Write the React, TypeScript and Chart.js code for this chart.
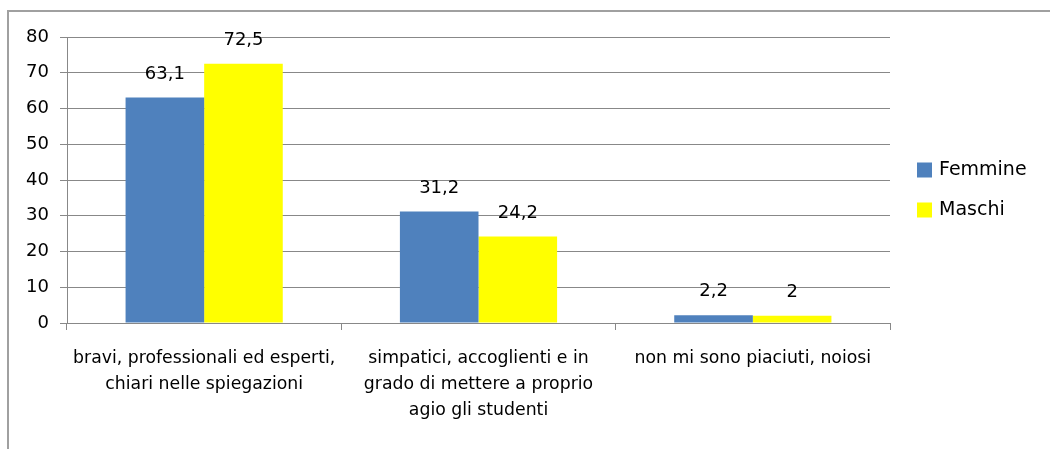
import React, { useEffect, useRef } from "react";
import { Chart, registerables } from "chart.js";

Chart.register(...registerables);

const categories: string[][] = [
  ["bravi, professionali ed esperti,", "chiari nelle spiegazioni"],
  ["simpatici, accoglienti e in", "grado di mettere a proprio", "agio gli studenti"],
  ["non mi sono piaciuti, noiosi"],
];
const femmine: number[] = [63.1, 31.2, 2.2];
const maschi: number[] = [72.5, 24.2, 2];
const seriesNames: string[] = ["Femmine", "Maschi"];
const seriesColors: string[] = ["#4F81BD", "#FFFF00"];
const yTicks = { min: 0, max: 80, step: 10 };

const FONT = "'DejaVu Sans', sans-serif";
const GRID = "#888888";

const fmt = (v: number) => String(v).replace(".", ",");

const framePlugin = {
  id: "frame",
  beforeDraw(chart: any) {
    const ctx = chart.ctx;
    ctx.save();
    ctx.strokeStyle = "#a0a0a0";
    ctx.lineWidth = 2;
    ctx.beginPath();
    ctx.moveTo(8, chart.height);
    ctx.lineTo(8, 11);
    ctx.lineTo(chart.width, 11);
    ctx.stroke();
    ctx.restore();
  },
};

const valueLabelPlugin = {
  id: "valueLabels",
  afterDatasetsDraw(chart: any) {
    const ctx = chart.ctx;
    ctx.save();
    ctx.fillStyle = "#000";
    ctx.font = `18px ${FONT}`;
    ctx.textAlign = "center";
    ctx.textBaseline = "middle";
    chart.data.datasets.forEach((ds: any, di: number) => {
      const meta = chart.getDatasetMeta(di);
      meta.data.forEach((bar: any, i: number) => {
        ctx.fillText(fmt(ds.data[i]), bar.x, bar.y - 23.5);
      });
    });
    ctx.restore();
  },
};

const legendPlugin = {
  id: "customLegend",
  afterDraw(chart: any) {
    const ctx = chart.ctx;
    ctx.save();
    ctx.font = `19px ${FONT}`;
    ctx.textBaseline = "middle";
    ctx.textAlign = "left";
    chart.data.datasets.forEach((ds: any, i: number) => {
      const cy = 170 + i * 40;
      ctx.fillStyle = ds.backgroundColor;
      ctx.fillRect(917, cy - 7.5, 15, 15);
      ctx.fillStyle = "#000";
      ctx.fillText(ds.label, 939, cy + 0.5);
    });
    ctx.restore();
  },
};

export default function App() {
  const ref = useRef<HTMLCanvasElement | null>(null);
  useEffect(() => {
    document.body.style.margin = "0";
    const canvas = ref.current;
    if (!canvas) return;
    const chart = new Chart(canvas, {
      type: "bar",
      data: {
        labels: categories,
        datasets: [
          { label: seriesNames[0], data: femmine, backgroundColor: seriesColors[0] },
          { label: seriesNames[1], data: maschi, backgroundColor: seriesColors[1] },
        ],
      },
      options: {
        responsive: false,
        animation: false,
        devicePixelRatio: 1,
        layout: { padding: { left: 0, top: 37, right: 160, bottom: 0 } },
        datasets: { bar: { categoryPercentage: 0.573, barPercentage: 1 } },
        plugins: { legend: { display: false }, tooltip: { enabled: false } },
        scales: {
          x: {
            grid: {
              offset: true,
              drawOnChartArea: false,
              drawTicks: true,
              tickLength: 7,
              color: GRID,
            },
            border: { color: GRID },
            ticks: {
              color: "#000",
              font: { family: FONT, size: 17.3, lineHeight: 26 / 17.3 },
              padding: 15.5,
              maxRotation: 0,
              autoSkip: false,
            },
            afterFit(scale: any) {
              scale.height = 126;
            },
          },
          y: {
            min: yTicks.min,
            max: yTicks.max,
            grid: { color: GRID, tickLength: 7 },
            border: { color: GRID },
            ticks: {
              stepSize: yTicks.step,
              color: "#000",
              font: { family: FONT, size: 18 },
              padding: 11,
            },
            afterFit(scale: any) {
              scale.width = 67;
            },
          },
        },
      },
      plugins: [framePlugin, valueLabelPlugin, legendPlugin],
    } as any);
    return () => chart.destroy();
  }, []);
  return (
    <div style={{ width: 1050, height: 449, background: "#fff" }}>
      <canvas ref={ref} width={1050} height={449} style={{ display: "block" }} />
    </div>
  );
}
